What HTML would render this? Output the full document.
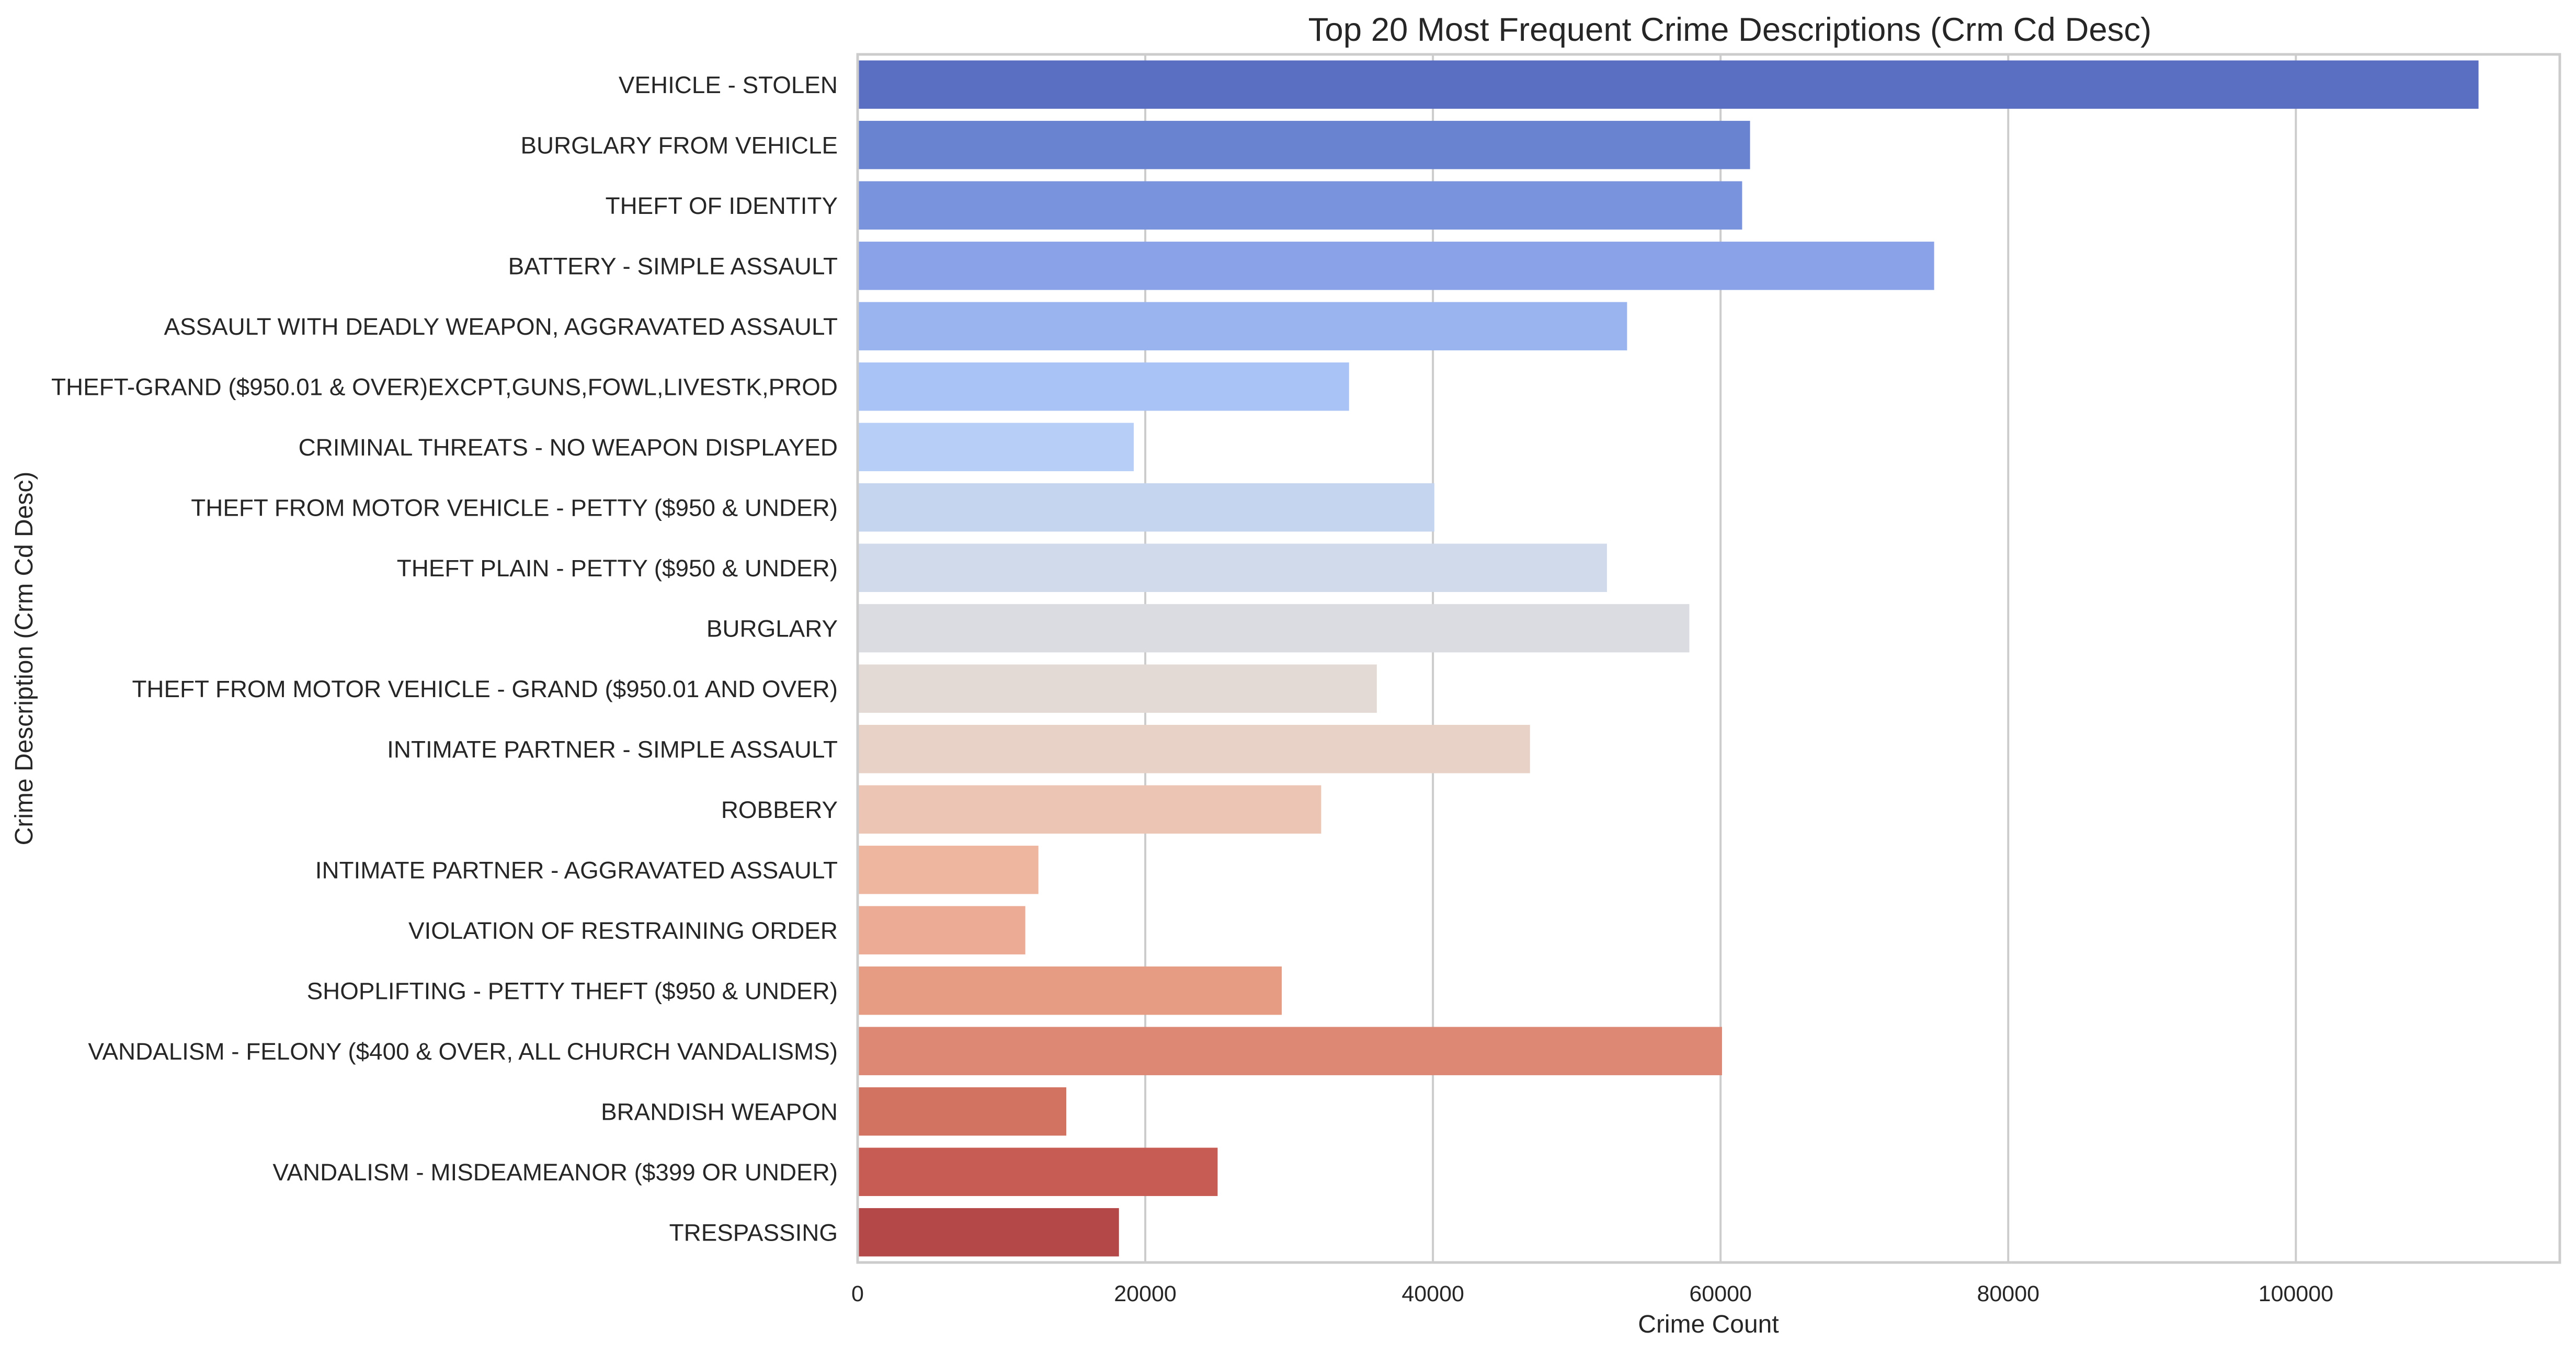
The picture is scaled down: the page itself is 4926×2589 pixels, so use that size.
<!DOCTYPE html>
<html><head><meta charset="utf-8"><style>html,body{margin:0;padding:0;background:#fff}svg{display:block;font-family:"Liberation Sans",Arial,sans-serif}</style></head>
<body>
<svg id="chart" width="4926" height="2589" viewBox="0 0 4926 2589" xmlns="http://www.w3.org/2000/svg">
<rect width="4926" height="2589" fill="#fff"/>
<g id="grid"></g><g id="bars"></g><g id="ylabels"></g><g id="xticks"></g>
<rect x="1640" y="104" width="3255" height="2310" fill="none" stroke="#cccccc" stroke-width="5"/>
<text x="3308" y="78" text-anchor="middle" font-size="63.5" fill="#262626">Top 20 Most Frequent Crime Descriptions (Crm Cd Desc)</text>
<text x="3267" y="2548" text-anchor="middle" font-size="48" fill="#262626">Crime Count</text>
<text transform="translate(62,1259) rotate(-90)" text-anchor="middle" font-size="48" fill="#262626">Crime Description (Crm Cd Desc)</text>
</svg>
<script>
const categories=["VEHICLE - STOLEN","BURGLARY FROM VEHICLE","THEFT OF IDENTITY","BATTERY - SIMPLE ASSAULT","ASSAULT WITH DEADLY WEAPON, AGGRAVATED ASSAULT","THEFT-GRAND ($950.01 & OVER)EXCPT,GUNS,FOWL,LIVESTK,PROD","CRIMINAL THREATS - NO WEAPON DISPLAYED","THEFT FROM MOTOR VEHICLE - PETTY ($950 & UNDER)","THEFT PLAIN - PETTY ($950 & UNDER)","BURGLARY","THEFT FROM MOTOR VEHICLE - GRAND ($950.01 AND OVER)","INTIMATE PARTNER - SIMPLE ASSAULT","ROBBERY","INTIMATE PARTNER - AGGRAVATED ASSAULT","VIOLATION OF RESTRAINING ORDER","SHOPLIFTING - PETTY THEFT ($950 & UNDER)","VANDALISM - FELONY ($400 & OVER, ALL CHURCH VANDALISMS)","BRANDISH WEAPON","VANDALISM - MISDEAMEANOR ($399 OR UNDER)","TRESPASSING"];
const counts=[112700,62050,61500,74850,53500,34170,19200,40100,52100,57830,36100,46750,32230,12570,11660,29490,60100,14510,25030,18170];
const colors=["#5a6ec2","#6a83d1","#7a93dd","#8aa3e8","#99b4ef","#a9c3f6","#b7cff7","#c5d5f0","#d0daea","#dadce2","#e3dad5","#e8d1c6","#ecc5b4","#eeb69f","#ebab95","#e59c82","#dd8875","#d27362","#c65c53","#b44748"];
const xTicks=[0,20000,40000,60000,80000,100000];
const X0=1640,X1=4895,Y0=104,Y1=2414,XMAX=118350;
const NS="http://www.w3.org/2000/svg";
function xs(v){return X0+(X1-X0)*v/XMAX;}
const band=(Y1-Y0)/categories.length;
function yc(i){return Y0+band*(i+0.5);}
function mk(t,a){const e=document.createElementNS(NS,t);for(const k in a)e.setAttribute(k,a[k]);return e;}
const grid=document.getElementById('grid'),bars=document.getElementById('bars'),yl=document.getElementById('ylabels'),xt=document.getElementById('xticks');
xTicks.forEach(v=>{
  const l=mk('line',{x1:xs(v),x2:xs(v),y1:Y0,y2:Y1,stroke:'#cccccc','stroke-width':4});
  
  
  grid.appendChild(l);
  const t=mk('text',{x:xs(v),y:2488,'text-anchor':'middle','font-size':43,fill:'#262626'});
  
  
  t.textContent=String(v);xt.appendChild(t);
});
categories.forEach((c,i)=>{
  const h=band*0.8;
  const r=mk('rect',{x:xs(0),y:yc(i)-h/2,width:xs(counts[i])-xs(0),height:h,fill:colors[i]});
  
  
  bars.appendChild(r);
  const t=mk('text',{x:1602,y:yc(i)+16,'text-anchor':'end','font-size':45.8,fill:'#262626'});
  
  
  t.textContent=c;yl.appendChild(t);
});
</script>
</body></html>
